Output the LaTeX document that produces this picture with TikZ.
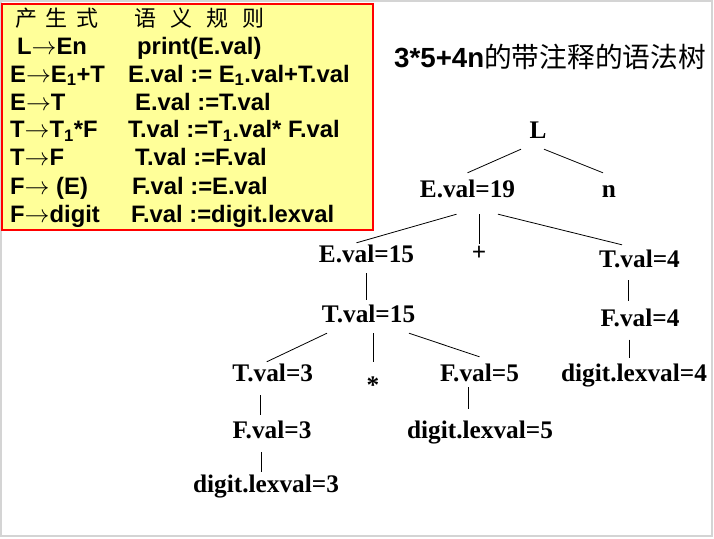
\documentclass[tikz,border=0pt]{standalone}
\usepackage{fontspec}
\setmainfont{Liberation Serif}
\newfontfamily\tabfont{Liberation Sans}
\newfontfamily\cjk{Noto Sans CJK SC}
\usetikzlibrary{calc,positioning}
\definecolor{notefill}{HTML}{FFFF99}
\definecolor{noteline}{HTML}{FF0000}
\definecolor{frame}{HTML}{D4D4D4}

\begin{document}
\begin{tikzpicture}[x=1pt,y=-1pt,
  row/.style={anchor=base west,inner sep=0pt,font=\tabfont\bfseries\fontsize{23.8}{26}\selectfont},
  head/.style={anchor=base west,inner sep=0pt,font=\cjk\fontsize{22}{24}\selectfont},
  tn/.style={anchor=base,inner xsep=0pt,inner ysep=5pt,text height=17pt,text depth=6pt,
    font=\bfseries\fontsize{25.3}{28}\selectfont},
  edge/.style={line width=0.8pt}]
\useasboundingbox (0,0) rectangle (714,538);
\draw[frame,line width=1.5pt] (1,1) rectangle (712,536);
% table of rules
\draw[noteline,line width=2pt,fill=notefill] (2,3.5) rectangle (373,229.5);
\node[head] (hdl) at (15,26) {产\hspace{8.5pt}生\hspace{8.5pt}式};
\node[head] (hdr) at (134,26) {语\hspace{14pt}义\hspace{14pt}规\hspace{14pt}则};
\node[row] (lhs1) at (17,54) {L$\rightarrow$En};
\node[row] (act1) at (137,54) {print(E.val)};
\node[row] (lhs2) at (10,82) {E$\rightarrow$E\textsubscript{1}+T};
\node[row] (act2) at (128,82) {E.val := E\textsubscript{1}.val+T.val};
\node[row] (lhs3) at (10,110) {E$\rightarrow$T};
\node[row] (act3) at (135,110) {E.val :=T.val};
\node[row] (lhs4) at (10,137.5) {T$\rightarrow$T\textsubscript{1}*F};
\node[row] (act4) at (128,137.5) {T.val :=T\textsubscript{1}.val* F.val};
\node[row] (lhs5) at (10,165.5) {T$\rightarrow$F};
\node[row] (act5) at (135,165.5) {T.val :=F.val};
\node[row] (lhs6) at (10,194) {F$\rightarrow$ (E)};
\node[row] (act6) at (132,194) {F.val :=E.val};
\node[row] (lhs7) at (10,222) {F$\rightarrow$digit};
\node[row] (act7) at (131,222) {F.val :=digit.lexval};
% title
\node[anchor=base west,inner sep=0pt,font=\fontsize{27.7}{30}\selectfont] (title) at (394,67)
  {{\tabfont\bfseries 3*5+4n}{\cjk 的带注释的语法树}};
% annotated parse tree
\node[tn] (L) at (538,138) {L};
\node[tn] (E19) at (467.5,197) {E.val=19};
\node[tn] (n) at (609,197) {n};
\node[tn] (E15) at (366.5,262) {E.val=15};
\node[tn] (plus) at (479,260) {+};
\node[tn] (T4) at (639.5,267) {T.val=4};
\node[tn] (T15) at (368.5,322) {T.val=15};
\node[tn] (F4) at (640,326.5) {F.val=4};
\node[tn] (T3) at (272.7,381) {T.val=3};
\node[tn] (star) at (373,393) {*};
\node[tn] (F5) at (479.5,381) {F.val=5};
\node[tn] (digit4) at (634,381.5) {digit.lexval=4};
\node[tn] (F3) at (272,438) {F.val=3};
\node[tn] (digit5) at (480,438) {digit.lexval=5};
\node[tn] (digit3) at (266,492) {digit.lexval=3};
\draw[edge] ([xshift=-17pt]L.south) -- ([yshift=2pt]E19.north);
\draw[edge] ([xshift=6pt]L.south) -- ([xshift=-6pt,yshift=2pt]n.north);
\draw[edge] ([xshift=-11pt,yshift=-6pt]E19.south) -- ([xshift=-10pt,yshift=-3pt]E15.north);
\draw[edge] ([xshift=11.5pt,yshift=-6pt]E19.south) -- ([xshift=11.5pt,yshift=-6pt]E19.south |- plus.north);
\draw[edge] ([xshift=30.5pt,yshift=-6pt]E19.south) -- ([xshift=-17.5pt]T4.north);
\draw[edge] (E15.south) -- (E15.south |- T15.north);
\draw[edge] ([xshift=-11.5pt,yshift=-2pt]T4.south) -- ([xshift=-11.5pt,yshift=3pt]T4.south |- F4.north);
\draw[edge] ([xshift=-11pt,yshift=-2pt]F4.south) -- ([xshift=-11pt,yshift=1pt]F4.south |- digit4.north);
\draw[edge] ([xshift=-41.5pt]T15.south) -- ([xshift=-6pt,yshift=-3pt]T3.north);
\draw[edge] ([xshift=4.5pt]T15.south) -- ([yshift=9pt]star.north);
\draw[edge] ([xshift=40.5pt]T15.south) -- ([yshift=2pt]F5.north);
\draw[edge] ([xshift=-12pt,yshift=-3pt]T3.south) -- ([xshift=-12pt,yshift=1pt]T3.south |- F3.north);
\draw[edge] ([xshift=-11pt,yshift=-3pt]F3.south) -- ([xshift=-11pt,yshift=-2pt]F3.south |- digit3.north);
\draw[edge] ([xshift=-11.5pt,yshift=5pt]F5.south) -- ([xshift=-11.5pt,yshift=7pt]F5.south |- digit5.north);
\end{tikzpicture}
\end{document}
